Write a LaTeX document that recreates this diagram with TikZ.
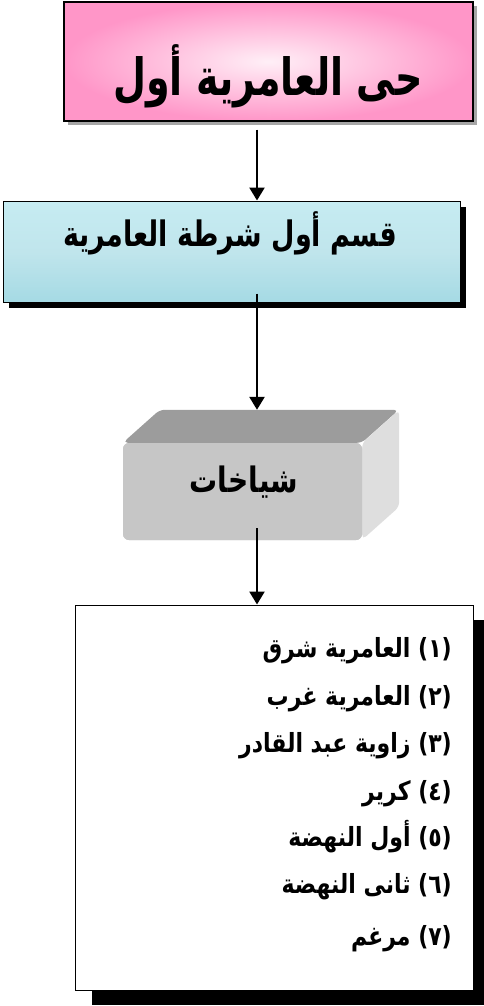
\documentclass[tikz,border=0pt]{standalone}
\usepackage{fontspec}
\newfontfamily\arabicfont[Script=Arabic]{DejaVu Sans}
\TeXXeTstate=1
\usetikzlibrary{arrows.meta}
\definecolor{pinkedge}{RGB}{255,150,200}
\definecolor{aqua}{RGB}{165,218,228}
\definecolor{aqualight}{RGB}{198,236,242}
\definecolor{gfront}{RGB}{198,198,198}
\definecolor{gtop}{RGB}{156,156,156}
\definecolor{gside}{RGB}{222,222,222}
\tikzset{
  conn/.style={line width=2.5pt, -{Triangle[width=15pt,length=13pt]}},
  listline/.style={font=\arabicfont\bfseries\fontsize{22}{26}\selectfont, anchor=base east, inner sep=0pt},
}
\newcommand{\tall}[2]{\scalebox{1}[#1]{#2}}
\begin{document}
\begin{tikzpicture}[x=1pt,y=-1pt]
\useasboundingbox (0,0) rectangle (483,1006);
% box 1
\fill[gray!70] (68,6) rectangle (477,125);
\node[draw=black, line width=1.2pt, inner color=pinkedge!15!white, outer color=pinkedge,
      minimum width=409pt, minimum height=119pt, inner sep=0pt] (b1) at (268.5,61.5) {};
\node[font=\arabicfont\bfseries\fontsize{38}{42}\selectfont] (t1) at (268,76) {\tall{1.35}{\beginR حى العامرية أول\endR}};
% box 2
\fill[black] (9,207) rectangle (466,308);
\node[draw=black, line width=1pt, top color=aqualight, bottom color=aqua, middle color=aqua!70!white,
      minimum width=457pt, minimum height=101pt, inner sep=0pt] (b2) at (231.5,251.5) {};
\node[font=\arabicfont\bfseries\fontsize{27}{31}\selectfont] (t2) at (230,233) {\tall{1.3}{\beginR قسم أول شرطة العامرية\endR}};
% box 3 (3D)
\node[fill=gfront, rounded corners=6pt, minimum width=239pt, minimum height=97pt, inner sep=0pt] (b3) at (242.5,491.5) {};
\fill[gtop, rounded corners=5pt] (b3.north west) -- ++(37,-33) -- ++(239,0) -- ++(-37,33) -- cycle;
\fill[gside, rounded corners=5pt] (b3.north east) -- ++(37,-33) -- ++(0,97) -- ++(-37,33) -- cycle;
\node[fill=gfront, rounded corners=6pt, minimum width=239pt, minimum height=97pt, inner sep=0pt] (b3f) at (242.5,491.5) {};
\node[font=\arabicfont\bfseries\fontsize{28}{32}\selectfont] (t3) at (244,482) {\tall{1.25}{\beginR شياخات\endR}};
% box 4
\fill[black] (92,620) rectangle (490,1005);
\node[draw=black, fill=white, line width=1pt, minimum width=398pt, minimum height=385pt, inner sep=0pt] (b4) at (274,797.5) {};
\node[listline] (l1) at (452,657) {\tall{1.2}{\beginR (١) العامرية شرق\endR}};
\node[listline] (l2) at (452,705) {\tall{1.2}{\beginR (٢) العامرية غرب\endR}};
\node[listline] (l3) at (452,752) {\tall{1.2}{\beginR (٣) زاوية عبد القادر\endR}};
\node[listline] (l4) at (452,800) {\tall{1.2}{\beginR (٤) كرير\endR}};
\node[listline] (l5) at (452,846) {\tall{1.2}{\beginR (٥) أول النهضة\endR}};
\node[listline] (l6) at (452,893) {\tall{1.2}{\beginR (٦) ثانى النهضة\endR}};
\node[listline] (l7) at (452,945) {\tall{1.2}{\beginR (٧) مرغم\endR}};
% connectors
\draw[conn] ([xshift=-11.5pt,yshift=-8pt]b1.south) -- ([xshift=25.5pt]b2.north);
\draw[conn] ([xshift=25.5pt,yshift=9pt]b2.south) -- ([xshift=14.5pt,yshift=33pt]b3.north);
\draw[conn] ([xshift=14.5pt,yshift=12pt]b3.south) -- ([xshift=-17pt]b4.north);
\end{tikzpicture}
\end{document}
